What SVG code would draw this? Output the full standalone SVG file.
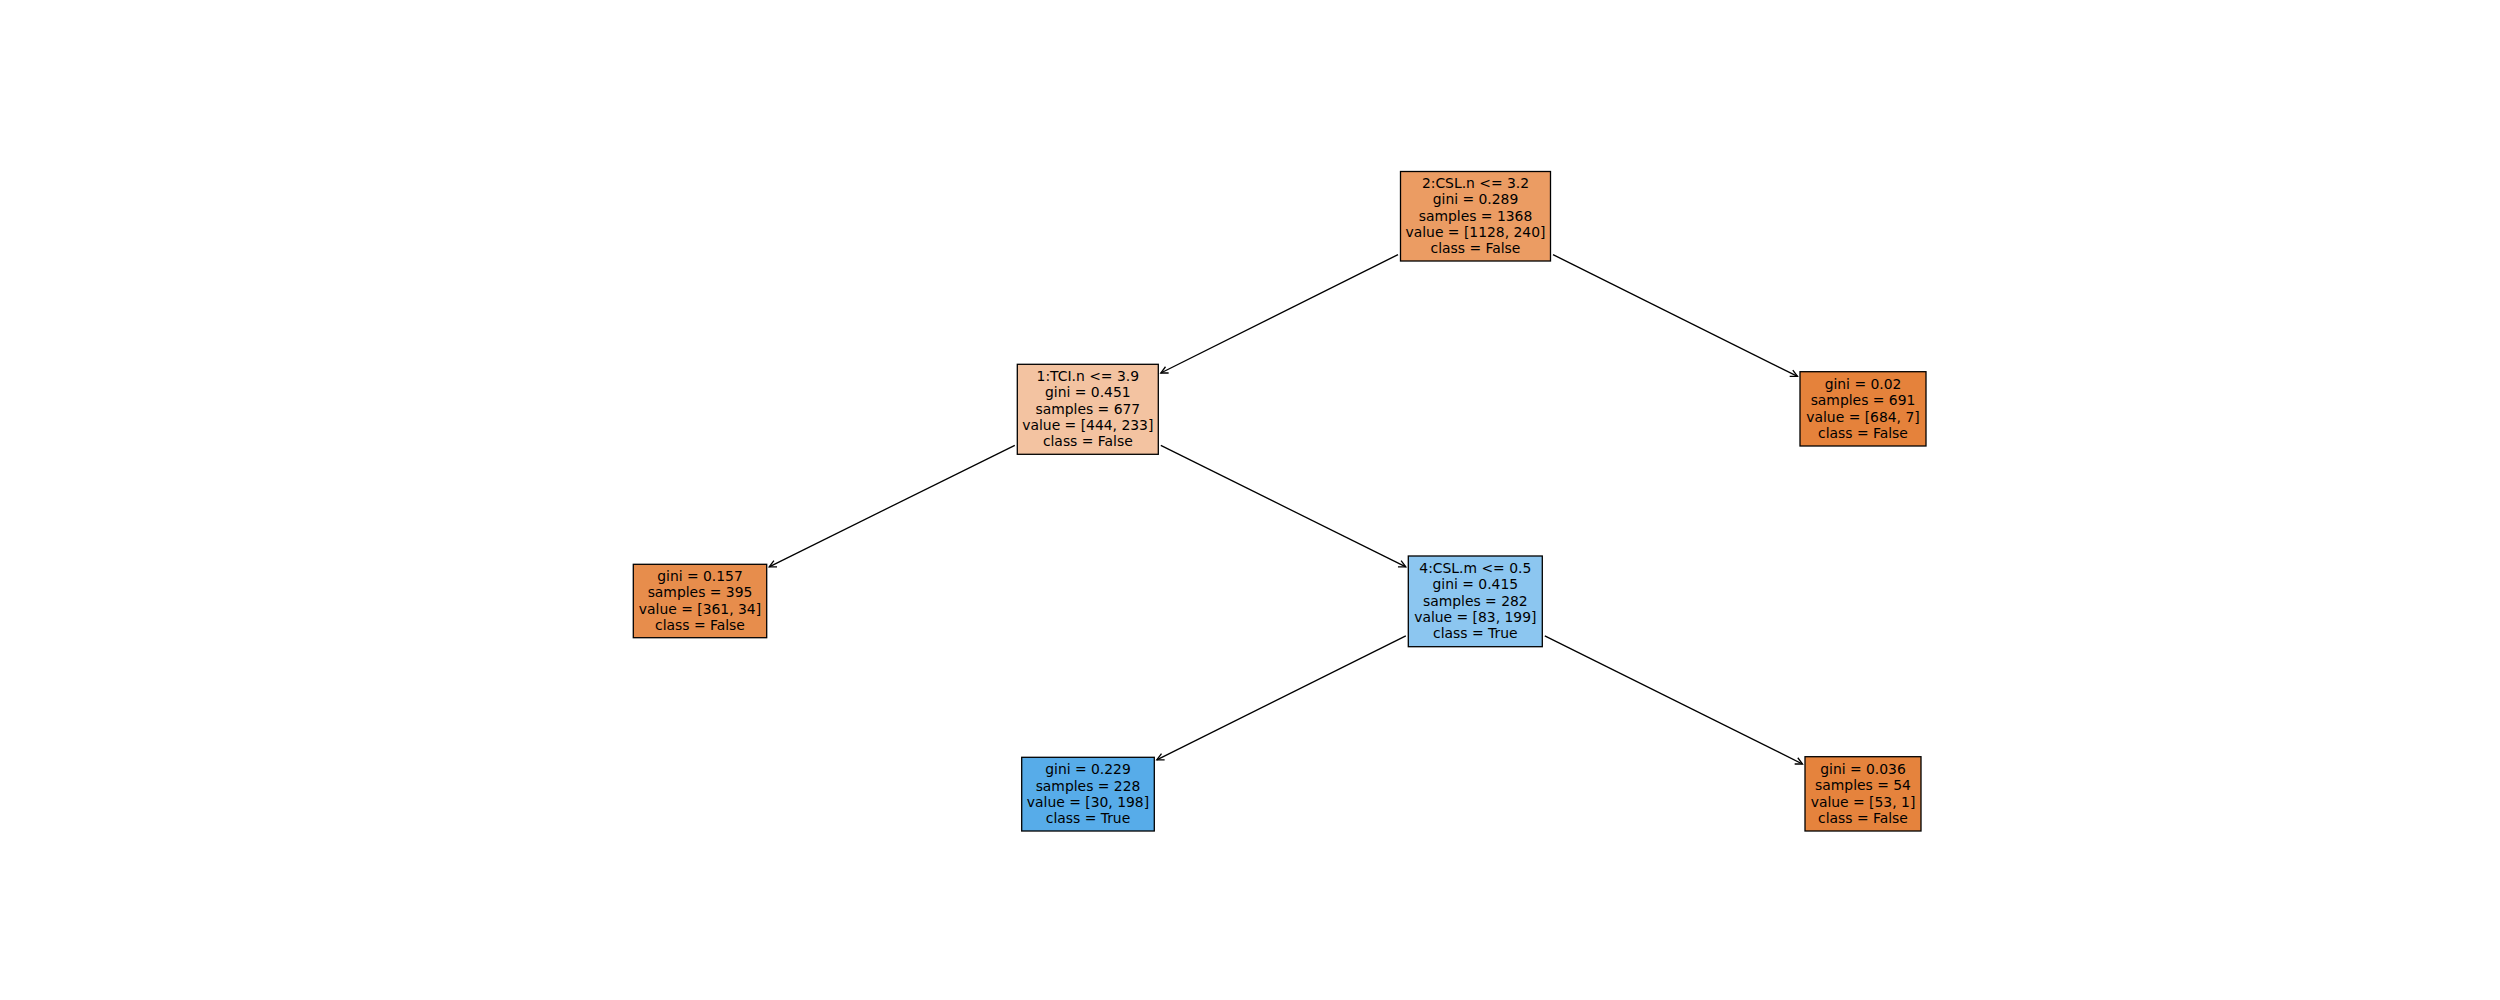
<svg xmlns="http://www.w3.org/2000/svg" width="2500" height="1000" viewBox="0 0 2500 1000">
<defs>
<marker id="ah" markerUnits="userSpaceOnUse" markerWidth="14" markerHeight="14" refX="0" refY="0" viewBox="-10 -7 14 14" orient="auto" overflow="visible">
<path d="M -7 -3.5 L 0 0 L -7 3.5" fill="none" stroke="#000" stroke-width="1.3"/>
</marker>
</defs>
<style>
.box{stroke:#000;stroke-width:1.3}
text{font-family:"DejaVu Sans","Liberation Sans",sans-serif;font-size:13.9px;text-anchor:middle;fill:#000}
.edge{stroke:#000;stroke-width:1.3;fill:none;marker-end:url(#ah)}
</style>
<rect width="2500" height="1000" fill="#fff"/>
<g id="connectors">
<line class="edge" x1="1398" y1="254.6" x2="1160.8" y2="373"/>
<line class="edge" x1="1553" y1="254.6" x2="1797.5" y2="376.4"/>
<line class="edge" x1="1014.8" y1="445.3" x2="769.2" y2="566.8"/>
<line class="edge" x1="1160.8" y1="445.4" x2="1405.8" y2="566.9"/>
<line class="edge" x1="1405.8" y1="635.8" x2="1156.8" y2="759.8"/>
<line class="edge" x1="1544.8" y1="635.8" x2="1802.5" y2="764"/>
</g>
<g id="node0">
<rect class="box" x="1400.5" y="171.5" width="150" height="89.5" fill="#eb9c63"/>
<text x="1475.5" y="188">2:CSL.n &lt;= 3.2</text>
<text x="1475.5" y="204.2">gini = 0.289</text>
<text x="1475.5" y="220.5">samples = 1368</text>
<text x="1475.5" y="236.7">value = [1128, 240]</text>
<text x="1475.5" y="253">class = False</text>
</g>
<g id="node1">
<rect class="box" x="1017.3" y="364.3" width="141" height="90" fill="#f3c3a1"/>
<text x="1087.8" y="381">1:TCI.n &lt;= 3.9</text>
<text x="1087.8" y="397.3">gini = 0.451</text>
<text x="1087.8" y="413.5">samples = 677</text>
<text x="1087.8" y="429.8">value = [444, 233]</text>
<text x="1087.8" y="446">class = False</text>
</g>
<g id="node2">
<rect class="box" x="1800" y="371.7" width="126" height="74.3" fill="#e5823b"/>
<text x="1863" y="389">gini = 0.02</text>
<text x="1863" y="405.2">samples = 691</text>
<text x="1863" y="421.5">value = [684, 7]</text>
<text x="1863" y="437.7">class = False</text>
</g>
<g id="node3">
<rect class="box" x="633.3" y="564.3" width="133.4" height="73.4" fill="#e78d4c"/>
<text x="700" y="581.1">gini = 0.157</text>
<text x="700" y="597.3">samples = 395</text>
<text x="700" y="613.6">value = [361, 34]</text>
<text x="700" y="629.8">class = False</text>
</g>
<g id="node4">
<rect class="box" x="1408.3" y="556" width="134" height="90.7" fill="#8cc6f0"/>
<text x="1475.3" y="573">4:CSL.m &lt;= 0.5</text>
<text x="1475.3" y="589.3">gini = 0.415</text>
<text x="1475.3" y="605.5">samples = 282</text>
<text x="1475.3" y="621.8">value = [83, 199]</text>
<text x="1475.3" y="638">class = True</text>
</g>
<g id="node5">
<rect class="box" x="1021.7" y="757.3" width="132.6" height="73.7" fill="#57ace9"/>
<text x="1088" y="774.3">gini = 0.229</text>
<text x="1088" y="790.5">samples = 228</text>
<text x="1088" y="806.8">value = [30, 198]</text>
<text x="1088" y="823">class = True</text>
</g>
<g id="node6">
<rect class="box" x="1805" y="756.7" width="116" height="74.3" fill="#e5833d"/>
<text x="1863" y="774">gini = 0.036</text>
<text x="1863" y="790.2">samples = 54</text>
<text x="1863" y="806.5">value = [53, 1]</text>
<text x="1863" y="822.7">class = False</text>
</g>
</svg>
